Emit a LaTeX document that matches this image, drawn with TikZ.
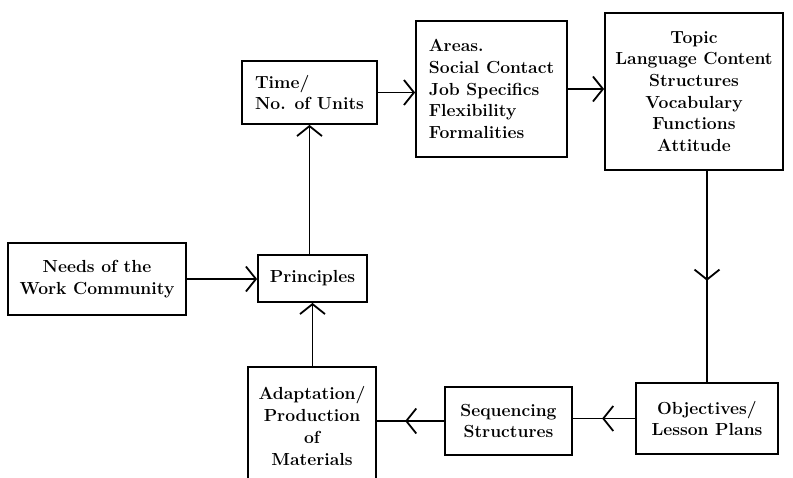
\documentclass[tikz,border=0pt]{standalone}
\usepackage{tikz}
\usetikzlibrary{arrows.meta,decorations.markings}

\tikzset{
  box/.style={draw,line width=1.8pt,inner sep=0pt,align=center,font=\bfseries\fontsize{17.5}{21.7}\selectfont},
  link/.style={line width=1.8pt},
  midarrow/.style={postaction={decorate},decoration={markings,mark=at position #1 with {\arrow{>}}}}
}

\begin{document}
\begin{tikzpicture}[x=1pt,y=-1pt,>={Straight Barb[length=10pt,width=25pt]}]
\useasboundingbox (0,0) rectangle (793,477);

\node[box,minimum width=178pt,minimum height=72pt] (needs) at (97,279) {Needs of the\\Work Community};
\node[box,minimum width=109pt,minimum height=47pt] (princ) at (312.5,278.5) {Principles};
\node[box,minimum width=128pt,minimum height=118pt] (adapt) at (312,426) {Adaptation/\\Production\\of\\Materials};
\node[box,align=left,minimum width=135pt,minimum height=63pt] (time) at (309.5,92.5) {Time/\\No. of Units};
\node[box,align=left,minimum width=151pt,minimum height=136pt] (areas) at (491.5,89) {Areas.\\Social Contact\\Job Specifics\\Flexibility\\Formalities};
\node[box,minimum width=178pt,minimum height=157pt] (topic) at (694,91.5) {Topic\\Language Content\\Structures\\Vocabulary\\Functions\\Attitude};
\node[box,minimum width=142pt,minimum height=71pt] (obj) at (707,418.5) {Objectives/\\Lesson Plans};
\node[box,minimum width=127pt,minimum height=68pt] (seq) at (508.5,421) {Sequencing\\Structures};

\draw[link,->] (needs.east) -- (needs.east -| princ.west);
\draw[link,->] (princ.north -| time) -- (time.south);
\draw[link,->] (adapt.north -| princ) -- (princ.south);
\draw[link,->] (time.east) -- (time.east -| areas.west);
\draw[link,->] (areas.east) -- (areas.east -| topic.west);
\draw[link,midarrow=0.52] (topic.south -| obj) -- (obj.north);
\draw[link,midarrow=0.53] (obj.west) -- (obj.west -| seq.east);
\draw[link,midarrow=0.58] (seq.west) -- (seq.west -| adapt.east);
\end{tikzpicture}
\end{document}
